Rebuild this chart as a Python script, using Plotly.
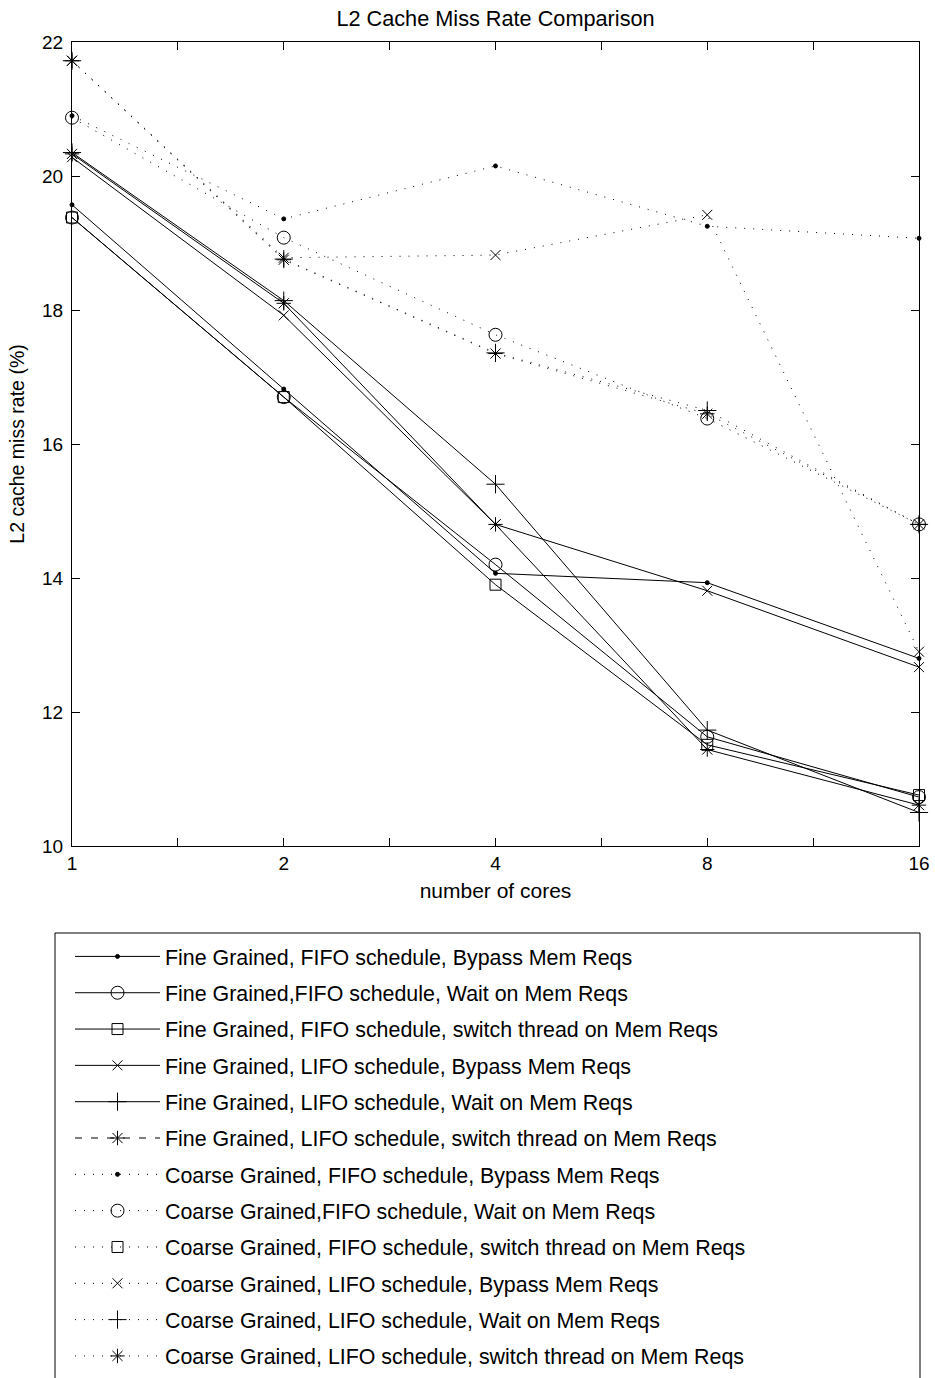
import math
import plotly.graph_objects as go

# ---------------- data ----------------
cores = [1, 2, 4, 8, 16]

fine_fifo_bypass = [19.57, 16.82, 14.07, 13.93, 12.80]
fine_fifo_wait = [19.38, 16.70, 14.20, 11.63, 10.73]
fine_fifo_switch = [19.38, 16.70, 13.90, 11.51, 10.76]
fine_lifo_bypass = [20.28, 17.92, 14.80, 13.81, 12.67]
fine_lifo_wait = [20.35, 18.14, 15.40, 11.73, 10.50]
fine_lifo_switch = [20.33, 18.10, 14.80, 11.44, 10.61]

coarse_fifo_bypass = [20.90, 19.36, 20.15, 19.25, 19.07]
coarse_fifo_wait = [20.87, 19.08, 17.63, 16.38, 14.80]
coarse_fifo_switch = [None, None, None, None, None]
coarse_lifo_bypass = [21.72, 18.78, 18.82, 19.42, 12.90]
coarse_lifo_wait = [21.72, 18.76, 17.36, 16.50, 14.80]
coarse_lifo_switch = [21.72, 18.75, 17.35, 16.45, 14.80]

labels = [
    "Fine Grained, FIFO schedule, Bypass Mem Reqs",
    "Fine Grained,FIFO schedule, Wait on Mem Reqs",
    "Fine Grained, FIFO schedule, switch thread on Mem Reqs",
    "Fine Grained, LIFO schedule, Bypass Mem Reqs",
    "Fine Grained, LIFO schedule, Wait on Mem Reqs",
    "Fine Grained, LIFO schedule, switch thread on Mem Reqs",
    "Coarse Grained, FIFO schedule, Bypass Mem Reqs",
    "Coarse Grained,FIFO schedule, Wait on Mem Reqs",
    "Coarse Grained, FIFO schedule, switch thread on Mem Reqs",
    "Coarse Grained, LIFO schedule, Bypass Mem Reqs",
    "Coarse Grained, LIFO schedule, Wait on Mem Reqs",
    "Coarse Grained, LIFO schedule, switch thread on Mem Reqs",
]
y_ticks = [10, 12, 14, 16, 18, 20, 22]

series = [
    fine_fifo_bypass, fine_fifo_wait, fine_fifo_switch,
    fine_lifo_bypass, fine_lifo_wait, fine_lifo_switch,
    coarse_fifo_bypass, coarse_fifo_wait, coarse_fifo_switch,
    coarse_lifo_bypass, coarse_lifo_wait, coarse_lifo_switch,
]

# ---------------- styles ----------------
FONT = "Liberation Sans, Arial, Helvetica, sans-serif"
marker_styles = [
    ("circle", 4), ("circle-open", 13), ("square-open", 11),
    ("x-thin-open", 10), ("cross-thin-open", 13), ("asterisk-open", 12),
]
DOT = "1px,8px"

fig = go.Figure()
for i, (vals, lab) in enumerate(zip(series, labels)):
    sym, size = marker_styles[i % 6]
    coarse = i >= 6
    dash = DOT if coarse else "solid"
    mk = dict(symbol=sym, size=size, color="black",
              line=dict(color="black", width=1))
    if i == 5:
        # plotted solid, legend sample drawn dashed (as in the reference)
        fig.add_trace(go.Scatter(
            x=cores, y=vals, mode="lines+markers", name=lab,
            line=dict(color="black", width=1, dash="solid"),
            marker=mk, showlegend=False, legendgroup=f"g{i}",
            cliponaxis=False))
        fig.add_trace(go.Scatter(
            x=[None], y=[None], mode="lines+markers", name=lab,
            line=dict(color="black", width=1, dash="7px,9px"),
            marker=mk, legendgroup=f"g{i}"))
    else:
        fig.add_trace(go.Scatter(
            x=cores, y=vals, mode="lines+markers", name=lab,
            line=dict(color="black", width=1, dash=dash),
            marker=mk, legendgroup=f"g{i}", cliponaxis=False))

# ticks: labelled at the core counts, unlabelled half-way (geometric) ticks
x_tickvals, x_ticktext = [], []
for k, c in enumerate(cores):
    x_tickvals.append(c)
    x_ticktext.append(str(c))
    if k + 1 < len(cores):
        x_tickvals.append(math.sqrt(c * cores[k + 1]))
        x_ticktext.append("")

L, R, T, B = 72, 16, 42, 532
W, H = 935, 1378
plot_w = W - L - R
plot_h = H - T - B

def px_to_paper_x(px):
    return (px - L) / plot_w

def px_to_paper_y(py):
    return (H - B - py) / plot_h

axis_common = dict(
    ticks="inside", ticklen=8, tickwidth=1, tickcolor="black",
    showline=True, linecolor="black", linewidth=1, mirror="ticks",
    showgrid=False, zeroline=False,
    tickfont=dict(family=FONT, size=19, color="black"),
)

fig.update_layout(
    width=W, height=H,
    margin=dict(l=L, r=R, t=T, b=B, pad=0, autoexpand=False),
    paper_bgcolor="white", plot_bgcolor="white",
    font=dict(family=FONT, color="black"),
    title=dict(text="L2 Cache Miss Rate Comparison", x=0.5, xref="paper",
               xanchor="center", y=1 - 18 / H, yanchor="middle",
               font=dict(family=FONT, size=21.7, color="black")),
    xaxis=dict(type="log", range=[0, math.log10(cores[-1])],
               tickvals=x_tickvals, ticktext=x_ticktext,
               title=dict(text="number of cores", standoff=10,
                          font=dict(family=FONT, size=21, color="black")),
               **axis_common),
    yaxis=dict(range=[y_ticks[0], y_ticks[-1]], tickvals=y_ticks,
               ticklabelstandoff=4,
               title=dict(text="L2 cache miss rate (%)", standoff=12,
                          font=dict(family=FONT, size=19.5, color="black")),
               **axis_common),
    legend=dict(x=px_to_paper_x(70), y=px_to_paper_y(936),
                xanchor="left", yanchor="top",
                bgcolor="rgba(0,0,0,0)", borderwidth=0,
                font=dict(family=FONT, size=21.4, color="black"),
                traceorder="grouped", tracegroupgap=5.5, itemwidth=85),
    shapes=[dict(type="rect", xref="paper", yref="paper",
                 x0=px_to_paper_x(55), x1=px_to_paper_x(920),
                 y0=px_to_paper_y(933), y1=px_to_paper_y(1420),
                 line=dict(color="black", width=1), fillcolor="rgba(0,0,0,0)",
                 layer="below")],
)

fig.write_html("out.html",
               config={"displayModeBar": False},
               post_script="document.body.style.margin='0';"
                           "document.body.style.overflow='hidden';")
